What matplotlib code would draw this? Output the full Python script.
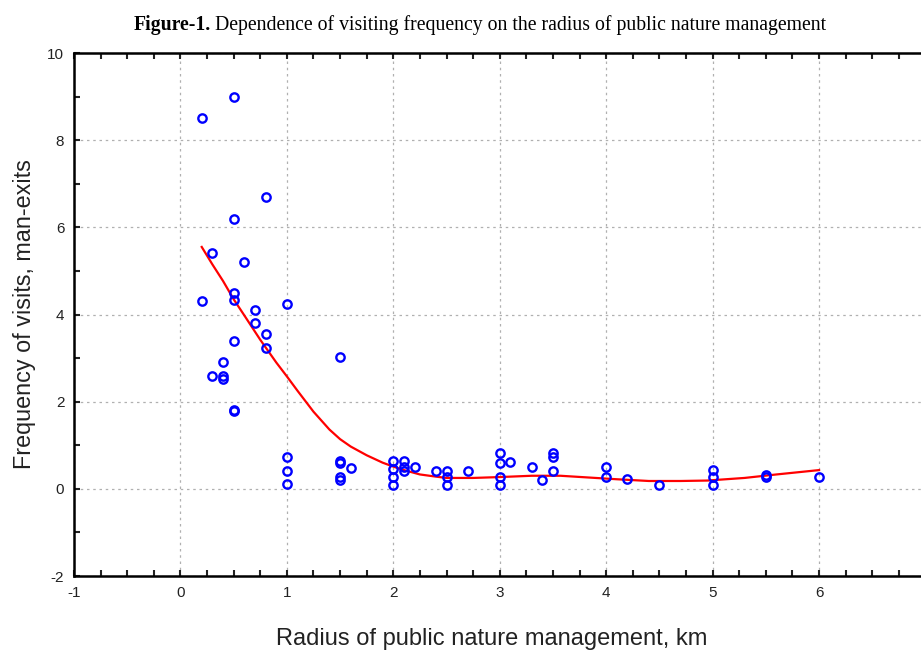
import matplotlib
matplotlib.use("Agg")
import matplotlib.pyplot as plt
from matplotlib.ticker import MultipleLocator

plt.rcParams["axes.unicode_minus"] = False

# observed points (radius km, visits)
radius = [0.2, 0.5, 0.8, 0.5, 0.3, 0.6, 0.2, 0.5, 0.5, 0.7, 1.0, 0.7, 0.8, 0.8,
          0.5, 0.4, 0.3, 0.4, 0.4, 0.5, 0.5,
          1.5, 1.0, 1.0, 1.0, 1.5, 1.5, 1.6, 1.5, 1.5,
          2.0, 2.0, 2.0, 2.0, 2.1, 2.1, 2.1, 2.2, 2.4, 2.5, 2.5, 2.5, 2.7,
          3.0, 3.0, 3.0, 3.0, 3.1, 3.3, 3.4, 3.5, 3.5, 3.5,
          4.0, 4.0, 4.2, 4.5, 5.0, 5.0, 5.0, 5.5, 5.5, 6.0]
visits = [8.5, 9.0, 6.7, 6.2, 5.4, 5.2, 4.3, 4.5, 4.33, 4.1, 4.25, 3.8, 3.55, 3.22,
          3.4, 2.9, 2.6, 2.58, 2.52, 1.82, 1.78,
          3.03, 0.74, 0.42, 0.1, 0.63, 0.6, 0.47, 0.28, 0.2,
          0.63, 0.45, 0.28, 0.09, 0.63, 0.51, 0.42, 0.49, 0.42, 0.42, 0.28, 0.09, 0.42,
          0.82, 0.59, 0.27, 0.09, 0.61, 0.49, 0.21, 0.82, 0.74, 0.42,
          0.5, 0.27, 0.22, 0.09, 0.44, 0.27, 0.09, 0.31, 0.28, 0.28]

# fitted smoothing curve
fit_x = [0.2, 0.3, 0.4, 0.5, 0.6, 0.75, 0.9, 1.0, 1.1, 1.25, 1.4, 1.5, 1.6, 1.75,
         1.9, 2.0, 2.1, 2.25, 2.4, 2.5, 2.75, 3.0, 3.3, 3.57, 3.9, 4.1, 4.4, 4.7,
         4.95, 5.3, 5.6, 6.0]
fit_y = [5.55, 5.15, 4.77, 4.35, 3.98, 3.42, 2.9, 2.58, 2.25, 1.77, 1.36, 1.14, 0.97, 0.77,
         0.6, 0.51, 0.43, 0.33, 0.28, 0.25, 0.25, 0.27, 0.30, 0.30, 0.25, 0.22, 0.18, 0.18,
         0.19, 0.25, 0.33, 0.43]

fig = plt.figure(figsize=(9.21, 6.52), dpi=100)
ax = fig.add_axes([74 / 921, 76 / 652, 851.5 / 921, 523 / 652])

ax.plot(fit_x, fit_y, color="#ff0000", lw=1.6, zorder=2)
ax.plot(radius, visits, "o", ms=6, mfc="none", mec="#0000ff", mew=1.7, zorder=3)

ax.set_xlim(-1, 7)
ax.set_ylim(-2, 10)
ax.xaxis.set_major_locator(MultipleLocator(1))
ax.xaxis.set_minor_locator(MultipleLocator(0.25))
ax.yaxis.set_major_locator(MultipleLocator(2))
ax.yaxis.set_minor_locator(MultipleLocator(1))
ax.grid(True, which="major", ls=(0, (2, 3)), color="#b0b0b0", lw=0.9)
ax.tick_params(which="both", direction="in", length=4, width=1.5, top=True,
               labelsize=11, pad=7, colors="#222222")
for lab in ax.get_xticklabels() + ax.get_yticklabels():
    lab.set_family(["Liberation Sans Narrow", "Liberation Sans"])
for s in ax.spines.values():
    s.set_linewidth(1.8)

ax.set_xlabel("Radius of public nature management, km", fontsize=17,
              family="Liberation Sans", color="#222222")
ax.xaxis.set_label_coords(0.49, -0.1)
ax.set_ylabel("Frequency of visits, man-exits", fontsize=16.8,
              family="Liberation Sans", labelpad=8, color="#222222")

t = fig.text(134 / 921, 1 - 25 / 652, "Figure-1.", fontsize=14.2, weight="bold",
             family="Liberation Serif", va="center")
fig.canvas.draw()
bb = t.get_window_extent()
fig.text((bb.x1 + 4) / 921, 1 - 25 / 652,
         "Dependence of visiting frequency on the radius of public nature management",
         fontsize=14.2, family="Liberation Serif", va="center")

fig.savefig("out.png", dpi=100)
